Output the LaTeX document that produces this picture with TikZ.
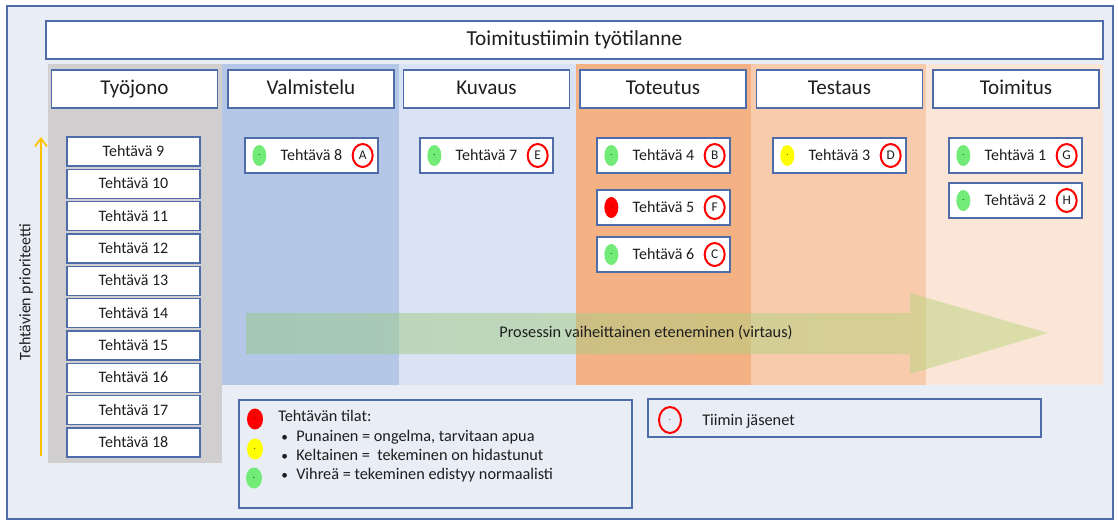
\documentclass[tikz,border=0pt]{standalone}
\usepackage{fontspec}
\setmainfont{Carlito}
\usetikzlibrary{shapes.geometric,arrows.meta,calc}
\definecolor{bordc}{RGB}{79,108,170}
\definecolor{bgc}{RGB}{233,237,246}
\definecolor{txtc}{RGB}{30,30,30}
\definecolor{colgray}{RGB}{208,206,206}
\definecolor{colblue}{RGB}{180,199,231}
\definecolor{collblue}{RGB}{218,227,243}
\definecolor{colorange}{RGB}{244,177,131}
\definecolor{colpeach}{RGB}{248,203,173}
\definecolor{collpeach}{RGB}{251,229,214}
\definecolor{dotgreen}{RGB}{115,235,120}
\definecolor{dotred}{RGB}{255,0,0}
\definecolor{dotyellow}{RGB}{255,255,0}
\definecolor{prioc}{RGB}{255,192,0}
\definecolor{flowl}{RGB}{150,200,135}
\definecolor{flowr}{RGB}{190,215,125}
\def\pxu{0.75pt}
\tikzset{
  box/.style={draw=bordc, line width=1pt, fill=white, inner sep=0pt, text=txtc, text height=0.76em, text depth=0pt},
  titlebox/.style={box, minimum width=1057*\pxu, minimum height=38*\pxu, font=\fontsize{16}{19}\selectfont},
  hdr/.style={box, minimum width=166*\pxu, minimum height=38*\pxu, font=\fontsize{15.8}{19}\selectfont},
  qbox/.style={box, minimum width=133*\pxu, minimum height=29*\pxu, font=\fontsize{12}{14}\selectfont},
  cardbox/.style={box, minimum width=133*\pxu, minimum height=35*\pxu, font=\fontsize{12}{14}\selectfont},
  statedot/.style={ellipse, inner sep=0pt, minimum width=14*\pxu, minimum height=21*\pxu, font=\fontsize{6}{6}\selectfont, text=black},
  member/.style={ellipse, draw=red, line width=1.5pt, inner sep=0pt, minimum width=20*\pxu, minimum height=23*\pxu, font=\fontsize{10}{11}\selectfont, text=txtc, text height=0.64em, text depth=0pt},
  lgtext/.style={anchor=west, inner sep=0pt, text=txtc, font=\fontsize{12.2}{14}\selectfont, text height=0.64em, text depth=0pt},
  lgbox/.style={draw=bordc, line width=1pt, inner sep=0pt},
}
\newcommand\taskcard[6]{%
  \node[cardbox] (#1) at (#2+66.5,#3+17.5) {Tehtävä #5};
  \node[statedot, fill=#4] (#1d) at ($(#1.west)+(15,0)$) {.};
  \node[member] (#1m) at ($(#1.east)+(-16,0)$) {#6};
}
\begin{document}
\begin{tikzpicture}[x=0.75pt,y=-0.75pt]
\useasboundingbox (0,0) rectangle (1118,522);
\fill[white] (0,0) rectangle (1118,522);
% outer frame
\draw[draw=bordc, line width=0.8pt, fill=bgc] (7,6) rectangle (1113,519);
% title
\node[titlebox] (title) at (574.5,40) {Toimitustiimin työtilanne};
% columns
\fill[colgray] (48,64) rectangle (222,463);
\fill[colblue] (222,64) rectangle (399,385);
\fill[collblue] (399,64) rectangle (576,385);
\fill[colorange] (576,64) rectangle (751,385);
\fill[colpeach] (751,64) rectangle (926,385);
\fill[collpeach] (926,64) rectangle (1103,385);
% headers
\node[hdr] (h1) at (134.5,89) {Työjono};
\node[hdr] (h2) at (311,89) {Valmistelu};
\node[hdr] (h3) at (486.5,89) {Kuvaus};
\node[hdr] (h4) at (663,89) {Toteutus};
\node[hdr] (h5) at (839.5,89) {Testaus};
\node[hdr] (h6) at (1016,89) {Toimitus};
% queue
\foreach \n [count=\i from 0] in {9,...,18} {
  \node[qbox] (q\n) at (133.5,151.5+32.33*\i) {Tehtävä \n};
}
% priority arrow
\coordinate (pbot) at (41,456);
\coordinate (ptop) at (41,137);
\draw[prioc, line width=1.3pt, -{Straight Barb[length=6pt,width=9pt]}] (pbot) -- (ptop);
\node[rotate=90, text=txtc, font=\fontsize{12}{14}\selectfont] (plabel) at (26,292) {Tehtävien prioriteetti};
% flow arrow
\shade[left color=flowl, right color=flowr, opacity=0.5]
  (246,313) -- (910,313) -- (910,293) -- (1048,333) -- (910,374) -- (910,354) -- (246,354) -- cycle;
\node[text=txtc, font=\fontsize{12.2}{14}\selectfont, text height=0.64em, text depth=0pt] (flow) at (646,333) {Prosessin vaiheittainen eteneminen (virtaus)};
% cards
\taskcard{t8}{245}{138}{dotgreen}{8}{A}
\taskcard{t7}{420}{138}{dotgreen}{7}{E}
\taskcard{t4}{597}{138}{dotgreen}{4}{B}
\taskcard{t5}{597}{190}{dotred}{5}{F}
\taskcard{t6}{597}{237}{dotgreen}{6}{C}
\taskcard{t3}{773}{138}{dotyellow}{3}{D}
\taskcard{t1}{949}{138}{dotgreen}{1}{G}
\taskcard{t2}{949}{183}{dotgreen}{2}{H}
% legend 1
\node[lgbox, minimum width=393*\pxu, minimum height=108*\pxu] (leg1) at (435.5,454) {};
\node[statedot, fill=dotred, minimum width=16*\pxu, minimum height=21*\pxu] (lr) at (255,419) {.};
\node[statedot, fill=dotyellow, minimum width=16*\pxu, minimum height=21*\pxu] (ly) at (255,449) {.};
\node[statedot, fill=dotgreen, minimum width=16*\pxu, minimum height=21*\pxu] (lg) at (254,478) {.};
\node[lgtext] (lt0) at (278,417) {Tehtävän tilat:};
\node[lgtext, font=\fontsize{10}{12}\selectfont] (lb1) at (281,437) {•};
\node[lgtext] (lt1) at (296,437) {Punainen = ongelma, tarvitaan apua};
\node[lgtext, font=\fontsize{10}{12}\selectfont] (lb2) at (281,456) {•};
\node[lgtext] (lt2) at (296,456) {Keltainen = \ tekeminen on hidastunut};
\node[lgtext, font=\fontsize{10}{12}\selectfont] (lb3) at (281,475) {•};
\node[lgtext] (lt3) at (296,475) {Vihreä = tekeminen edistyy normaalisti};
% legend 2
\node[lgbox, minimum width=393*\pxu, minimum height=38*\pxu] (leg2) at (844.5,418) {};
\node[member, minimum width=22*\pxu, minimum height=26*\pxu, font=\fontsize{6}{6}\selectfont, text height=, text depth=] (lm) at (670,420) {.};
\node[lgtext] (lmt) at (702,421) {Tiimin jäsenet};
\end{tikzpicture}
\end{document}
